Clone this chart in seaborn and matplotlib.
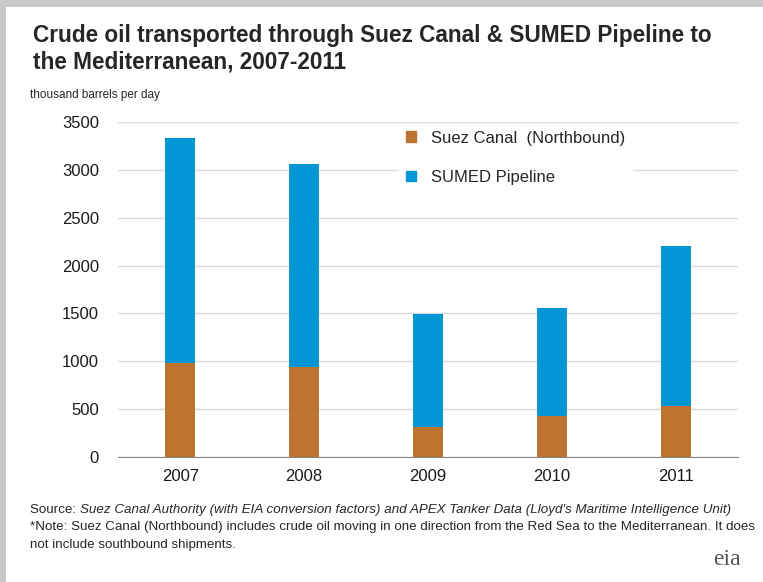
import matplotlib
matplotlib.use("Agg")
import matplotlib.pyplot as plt
import seaborn as sns
import pandas as pd
from matplotlib.patches import Patch, Rectangle
from matplotlib.transforms import offset_copy

# data (thousand barrels per day)
years = ["2007", "2008", "2009", "2010", "2011"]
suez_canal = [980, 945, 315, 430, 535]
sumed_pipeline = [2360, 2120, 1180, 1130, 1670]

brown = "#BD7430"
blue = "#0096D6"

df = pd.DataFrame({"year": years, "suez": suez_canal, "sumed": sumed_pipeline})
df["total"] = df["suez"] + df["sumed"]

sns.set_style("white")
plt.rcParams["font.family"] = ["Liberation Sans", "DejaVu Sans"]

fig = plt.figure(figsize=(7.63, 5.82), dpi=100)
ax = fig.add_axes([0.155, 0.215, 0.812, 0.575])

# stacked bars: total in blue, Suez drawn over it from zero
sns.barplot(data=df, x="year", y="total", color=blue, width=0.24, ax=ax,
            saturation=1, linewidth=0)
sns.barplot(data=df, x="year", y="suez", color=brown, width=0.24, ax=ax,
            saturation=1, linewidth=0)

ax.set_ylim(0, 3500)
ax.set_xlim(-0.5, 4.5)
ax.set_yticks(range(0, 3501, 500))
ax.yaxis.grid(True, color="#D9D9D9", linewidth=1)
ax.set_axisbelow(True)
for s in ["top", "right", "left"]:
    ax.spines[s].set_visible(False)
ax.spines["bottom"].set_color("#868686")
ax.set_xlabel("")
ax.set_ylabel("")
ax.tick_params(axis="x", length=0, labelsize=12, colors="#1a1a1a", pad=9)
ax.tick_params(axis="y", length=0, labelsize=12, colors="#1a1a1a", pad=14)
ax.set_xticks([i - 0.5 for i in range(6)], minor=True)
ax.tick_params(axis="x", which="minor", length=5, color="#868686", direction="out")

handles = [Patch(color=brown, label="Suez Canal  (Northbound)"),
           Patch(color=blue, label="SUMED Pipeline")]
leg = ax.legend(handles=handles, loc="upper left", bbox_to_anchor=(0.44, 1.02),
                frameon=True, fontsize=12, handlelength=0.6, handleheight=0.6,
                handletextpad=0.9, labelspacing=1.45, edgecolor="white",
                framealpha=1, fancybox=False)

fig.text(0.043, 0.958, "Crude oil transported through Suez Canal & SUMED Pipeline to\nthe Mediterranean, 2007-2011",
         fontsize=16.3, fontweight="bold", va="top", ha="left", linespacing=1.15)
fig.text(0.039, 0.837, "thousand barrels per day", fontsize=8.5, va="center")

src = fig.text(0.039, 0.124, "Source: ", fontsize=9.6, va="center")
fig.canvas.draw()
w = src.get_window_extent().width
fig.text(0.039, 0.124, "Suez Canal Authority (with EIA conversion factors) and APEX Tanker Data (Lloyd's Maritime Intelligence Unit)",
         fontsize=9.6, va="center", style="italic",
         transform=offset_copy(fig.transFigure, fig=fig, x=w, y=0, units="dots"))
fig.text(0.039, 0.094, "*Note: Suez Canal (Northbound) includes crude oil moving in one direction from the Red Sea to the Mediterranean. It does",
         fontsize=9.6, va="center")
fig.text(0.039, 0.063, "not include southbound shipments.", fontsize=9.6, va="center")
fig.text(0.935, 0.03, "eia", fontsize=17, color="#555555", family="Liberation Serif")

# light grey frame around the figure
fig.patches.append(Rectangle((0.003, -0.05), 1.1, 1.045, transform=fig.transFigure,
                             fill=False, edgecolor="#C8C8C8", linewidth=5))

fig.savefig("out.png", dpi=100)
